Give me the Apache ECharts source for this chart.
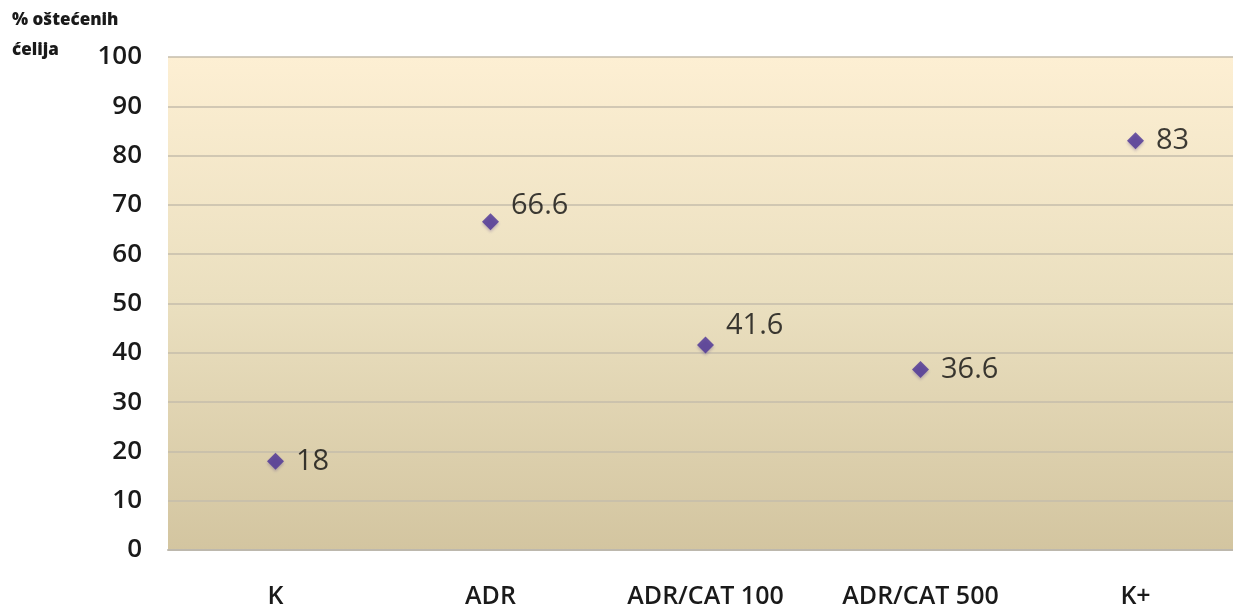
<!DOCTYPE html>
<html>
<head>
<meta charset="utf-8">
<script src="https://cdn.jsdelivr.net/npm/echarts@6/dist/echarts.min.js"></script>
<style>
  html, body { margin: 0; padding: 0; background: #ffffff; }
  #chart { width: 1233px; height: 610px; }
</style>
</head>
<body>
<div id="chart"></div>
<script>
// Share of damaged cells per treatment group
const categories = ['K', 'ADR', 'ADR/CAT 100', 'ADR/CAT 500', 'K+'];
const damagedCells = [18, 66.6, 41.6, 36.6, 83];
const yTicks = [0, 10, 20, 30, 40, 50, 60, 70, 80, 90, 100];
const yTitleLines = ['% oštećenih', 'ćelija'];

const FONT = '"Open Sans", Lato, sans-serif';

// labels that sit a little higher than their marker
const raisedLabels = { 1: [0, -16], 2: [0, -19] };

const chart = echarts.init(document.getElementById('chart'), null, { renderer: 'canvas' });

chart.setOption({
  animation: false,
  backgroundColor: '#ffffff',
  grid: {
    left: 168, top: 57, width: 1075, bottom: 60,
    outerBoundsMode: 'none',
    containLabel: false,
    show: true,
    borderWidth: 0,
    backgroundColor: new echarts.graphic.LinearGradient(0, 0, 0, 1, [
      { offset: 0, color: '#fdefd3' },
      { offset: 0.5, color: '#eadfbf' },
      { offset: 1, color: '#d3c5a0' }
    ])
  },
  graphic: [
    {
      type: 'text', left: 12, top: 12,
      style: { text: yTitleLines[0], font: '800 17px ' + FONT, fill: '#1a1a1a' }
    },
    {
      type: 'text', left: 12, top: 42,
      style: { text: yTitleLines[1], font: '800 17px ' + FONT, fill: '#1a1a1a' }
    }
  ],
  xAxis: {
    type: 'category',
    data: categories,
    boundaryGap: true,
    axisLine: { show: true, lineStyle: { color: '#bdb8ad', width: 2 } },
    axisTick: { show: false },
    axisLabel: {
      margin: 34,
      fontFamily: FONT,
      fontSize: 25,
      fontWeight: 600,
      color: '#1a1a1a'
    }
  },
  yAxis: {
    type: 'value',
    min: yTicks[0],
    max: yTicks[yTicks.length - 1],
    interval: yTicks[1] - yTicks[0],
    axisLine: { show: false },
    axisTick: { show: false },
    splitLine: { show: true, lineStyle: { color: '#c4bcab', width: 1.5 } },
    axisLabel: {
      margin: 26,
      fontFamily: FONT,
      fontSize: 26,
      fontWeight: 600,
      color: '#1a1a1a'
    }
  },
  series: [{
    type: 'scatter',
    symbol: 'diamond',
    symbolSize: [17, 17],
    itemStyle: {
      color: '#4b3296',
      shadowColor: 'rgba(60,40,120,0.35)',
      shadowBlur: 3,
      shadowOffsetY: 2
    },
    label: {
      show: true,
      position: 'right',
      distance: 12,
      fontFamily: FONT,
      fontSize: 29,
      color: '#0d0d0d'
    },
    data: damagedCells.map((v, i) => raisedLabels[i]
      ? { value: v, label: { offset: raisedLabels[i] } }
      : v)
  }]
});
</script>
</body>
</html>
